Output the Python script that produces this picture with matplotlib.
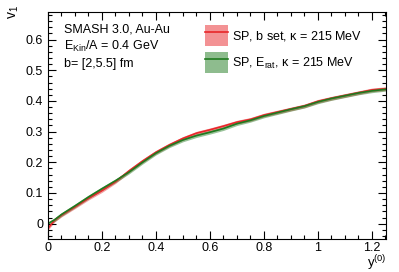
import numpy as np
import matplotlib
matplotlib.use("Agg")
import matplotlib.pyplot as plt
from matplotlib.patches import Patch
from matplotlib.lines import Line2D
from matplotlib.ticker import MultipleLocator

# rapidity y^(0) and v1 for both parameter sets
y0 = [0.0, 0.025, 0.05, 0.1, 0.15, 0.2, 0.25, 0.3, 0.35, 0.4, 0.45, 0.5, 0.55,
      0.6, 0.65, 0.7, 0.75, 0.8, 0.85, 0.9, 0.95, 1.0, 1.05, 1.1, 1.15, 1.2, 1.25]
v1_bset = [-0.015, 0.012, 0.028, 0.055, 0.083, 0.108, 0.137, 0.172, 0.204, 0.233,
           0.257, 0.278, 0.295, 0.306, 0.318, 0.331, 0.340, 0.354, 0.364, 0.374,
           0.384, 0.399, 0.409, 0.418, 0.427, 0.436, 0.440]
v1_erat = [0.0, 0.013, 0.030, 0.058, 0.087, 0.114, 0.140, 0.168, 0.200, 0.230,
           0.254, 0.273, 0.287, 0.298, 0.310, 0.326, 0.337, 0.351, 0.362, 0.373,
           0.383, 0.397, 0.408, 0.417, 0.426, 0.433, 0.438]
err_bset = 0.006
err_erat = 0.006

labels = ["SP, b set, $\\kappa$ = 215 MeV",
          "SP, E$_{\\rm rat}$, $\\kappa$ = 215 MeV"]

plt.rcParams['font.family'] = ['Liberation Sans', 'DejaVu Sans']
plt.rcParams['mathtext.fontset'] = 'custom'
plt.rcParams['mathtext.rm'] = 'Liberation Sans'
plt.rcParams['mathtext.it'] = 'Liberation Sans'

fig = plt.figure(figsize=(3.99, 2.72), dpi=100)
ax = fig.add_axes([48 / 399, 1 - 239 / 272, 338 / 399, 227 / 272])

red = '#e8262a'
green = '#1f7a1f'
yb = np.array(v1_bset)
ye = np.array(v1_erat)
ax.fill_between(y0, yb - err_bset, yb + err_bset, color=red, alpha=0.45, lw=0)
ax.plot(y0, yb, color=red, lw=1.2)
ax.fill_between(y0, ye - err_erat, ye + err_erat, color=green, alpha=0.45, lw=0)
ax.plot(y0, ye, color=green, lw=1.2)

ax.set_xlim(0, 1.252)
ax.set_ylim(-0.05, 0.69)
ax.xaxis.set_major_locator(MultipleLocator(0.2))
ax.xaxis.set_minor_locator(MultipleLocator(0.05))
ax.yaxis.set_major_locator(MultipleLocator(0.1))
ax.yaxis.set_minor_locator(MultipleLocator(0.02))
ax.tick_params(which='both', direction='in', top=True, right=True, labelsize=9)
ax.tick_params(which='major', length=6, width=0.8)
ax.tick_params(which='minor', length=3, width=0.8)
ax.tick_params(axis='x', pad=2.5)
ax.xaxis.set_major_formatter(plt.FuncFormatter(lambda v, p: ('%g' % round(v, 2))))
ax.yaxis.set_major_formatter(plt.FuncFormatter(lambda v, p: ('%g' % round(v, 2))))

fig.text(14 / 399, 1 - 5 / 272, 'v$_1$', rotation=90, ha='center', va='top', fontsize=10)
fig.text(387 / 399, 1 - 267 / 272, 'y$^{(0)}$', ha='right', va='baseline', fontsize=9.5)

ax.text(0.047, 0.925, 'SMASH 3.0, Au-Au', transform=ax.transAxes, fontsize=9, va='center')
ax.text(0.047, 0.850, 'E$_{\\rm Kin}$/A = 0.4 GeV', transform=ax.transAxes, fontsize=9, va='center')
ax.text(0.047, 0.771, 'b= [2,5.5] fm', transform=ax.transAxes, fontsize=9, va='center')

handles = [(Patch(facecolor=red, alpha=0.5), Line2D([], [], color=red, lw=1.2)),
           (Patch(facecolor=green, alpha=0.5), Line2D([], [], color=green, lw=1.2))]
ax.legend(handles, labels, loc='upper left',
          bbox_to_anchor=((205 - 48) / 338, (239 - 25) / 227),
          borderaxespad=0, borderpad=0,
          frameon=False, fontsize=9, handlelength=1.8, handleheight=2.2,
          labelspacing=0.5, handletextpad=0.4)

fig.savefig('out.png', dpi=100)
